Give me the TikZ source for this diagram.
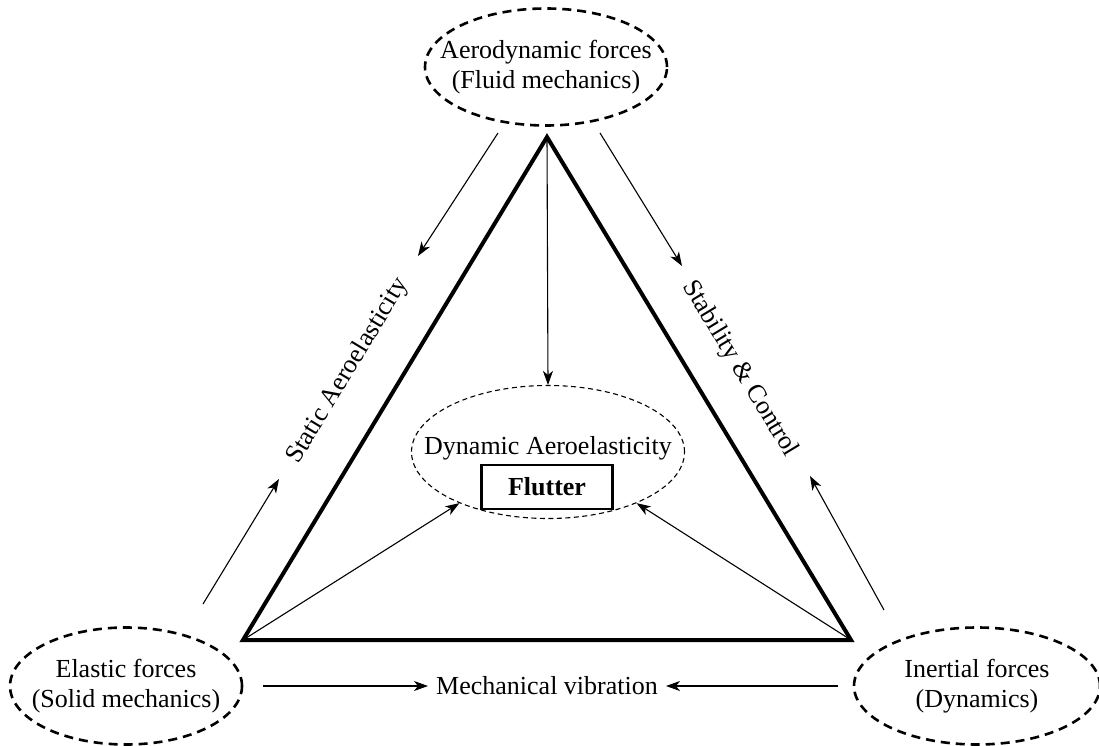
\documentclass[tikz,border=0pt]{standalone}
\usepackage{fontspec}
\setmainfont{Liberation Serif}
\usetikzlibrary{arrows.meta,shapes.geometric}
\begin{document}
\begin{tikzpicture}[x=1pt,y=-1pt,
  forceell/.style={draw,ellipse,dashed,line width=2.6pt,dash pattern=on 9pt off 6pt,
     minimum width=#1,minimum height=117pt,inner sep=0pt},
  arr/.style={line width=1.1pt,-{Stealth[length=14pt,width=10pt,inset=4pt]}},
  lbl/.style={font=\fontsize{26}{30}\selectfont,inner sep=0pt,align=center}]
\useasboundingbox (0,0) rectangle (1099,746);
% force ellipses and their texts
\node[forceell=242pt] (aero) at (546,67) {};
\node[lbl] (aerotxt) at (aero) {Aerodynamic forces\\(Fluid mechanics)};
\node[forceell=232pt] (elas) at (126,686) {};
\node[lbl] (elastxt) at (elas) {Elastic forces\\(Solid mechanics)};
\node[forceell=246pt] (iner) at (977,686) {};
\node[lbl] (inertxt) at (iner) {Inertial forces\\(Dynamics)};
% triangle
\coordinate (T) at (547,137);
\coordinate (L) at (243,640);
\coordinate (R) at (851,640);
\draw[line width=4pt,line join=miter] (T) -- (L) -- (R) -- cycle;
% centre
\node[draw,ellipse,dashed,line width=1.1pt,dash pattern=on 5pt off 3.5pt,
  minimum width=273pt,minimum height=133pt] (dyn) at (548,452) {};
\node[lbl] (dyntxt) at (548,448) {Dynamic Aeroelasticity};
\node[draw,line width=2.4pt,minimum width=131pt,minimum height=44pt,inner sep=0pt,
  font=\fontsize{26}{29}\selectfont\bfseries] (flut) at (547,487) {Flutter};
\node[lbl] (mech) at (547,686) {Mechanical vibration};
\node[lbl,rotate=58.85] (stat) at (348,371) {Static Aeroelasticity};
\node[lbl,rotate=-58.85] (stab) at (740,369) {Stability \& Control};
% connector end points
\coordinate (a1s) at (498,133); \coordinate (a1e) at (418,256);
\coordinate (a2s) at (600,133); \coordinate (a2e) at (682,266);
\coordinate (a3s) at (203,604); \coordinate (a3e) at (279,479);
\coordinate (a4s) at (884,610); \coordinate (a4e) at (810,476);
\coordinate (a5s) at (263,686);
\coordinate (a6s) at (838,686);
\draw[arr] (a1s) -- (a1e);
\draw[arr] (a2s) -- (a2e);
\draw[arr] (a3s) -- (a3e);
\draw[arr] (a4s) -- (a4e);
\draw[arr] (a5s) -- ([xshift=-8pt]mech.west);
\draw[arr] (a6s) -- ([xshift=8pt]mech.east);
\draw[arr] (T) -- (dyn.north);
\draw[arr] (L) -- (dyn.-150);
\draw[arr] (R) -- (dyn.-30);
\end{tikzpicture}
\end{document}
